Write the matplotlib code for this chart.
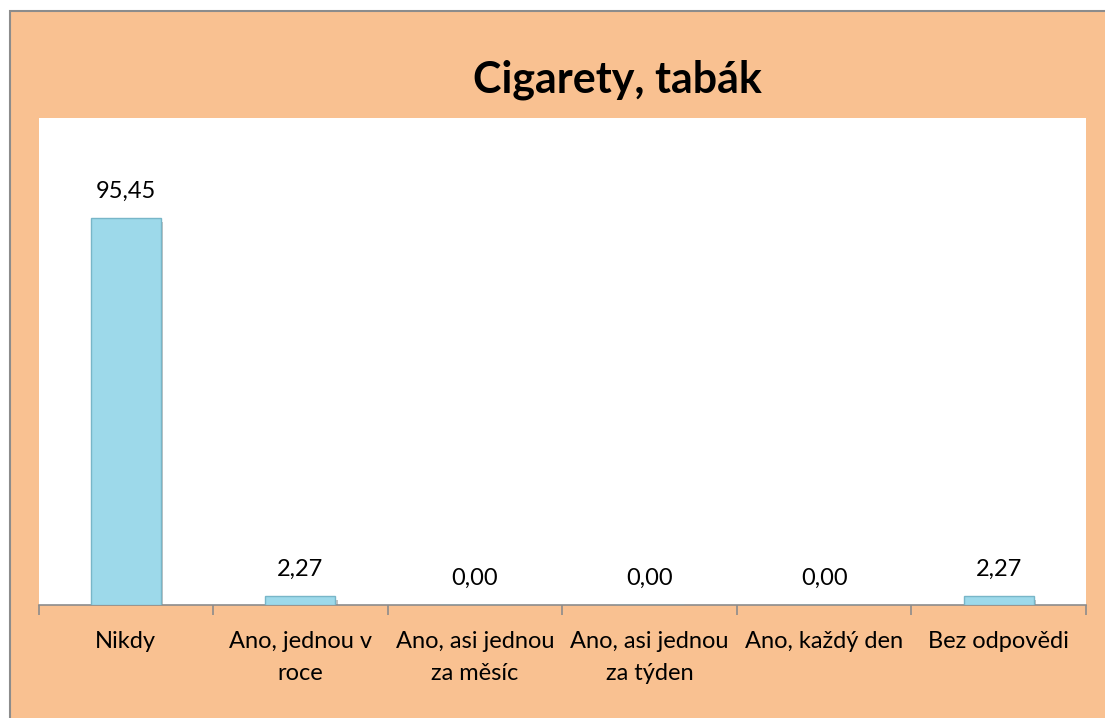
import matplotlib.pyplot as plt
import matplotlib.patheffects as pe
from matplotlib.patches import Rectangle

plt.rcParams['font.family'] = ['Lato', 'DejaVu Sans']

# data
categories = ["Nikdy", "Ano, jednou v\nroce", "Ano, asi jednou\nza měsíc",
              "Ano, asi jednou\nza týden", "Ano, každý den", "Bez odpovědi"]
values = [95.45, 2.27, 0.00, 0.00, 0.00, 2.27]
title = "Cigarety, tabák"

W, H = 1105, 718
fig = plt.figure(figsize=(W / 100, H / 100), dpi=100)
fig.patch.set_facecolor("white")

# orange chart area with grey border on top/left
fig.patches.append(Rectangle((10 / W, -0.01), 1.0, 1 - 11.5 / H + 0.01,
                             transform=fig.transFigure, facecolor="#F9C191",
                             edgecolor="#8C8C8C", linewidth=1.5, zorder=-10))

ax = fig.add_axes([38.5 / W, 113 / H, (1086 - 38.5) / W, (605 - 118) / H])
ax.set_zorder(5)
ax.set_facecolor("white")

x = range(len(categories))
bars = ax.bar(x, values, width=0.4, color="#9DD9EA", edgecolor="#78B6C8",
              linewidth=1.0, zorder=3)
for b in bars:
    b.set_path_effects([pe.SimplePatchShadow(offset=(2, -3), shadow_rgbFace="#888888", alpha=0.5),
                        pe.Normal()])

# value labels with decimal comma
for xi, v in zip(x, values):
    ax.text(xi, v + 4.0, f"{v:.2f}".replace(".", ","), ha="center", va="bottom",
            fontsize=17, color="black")

ax.set_xlim(-0.5, len(categories) - 0.5)
ax.set_ylim(0, 120)
ax.set_yticks([])
for s in ["top", "right", "left"]:
    ax.spines[s].set_visible(False)
ax.spines["bottom"].set_color("#8C8C8C")
ax.spines["bottom"].set_linewidth(1.2)

# tick marks at category boundaries, labels centred on categories
ax.set_xticks([i - 0.5 for i in range(len(categories) + 1)], minor=False)
ax.set_xticklabels([])
ax.tick_params(axis="x", length=7, color="#8C8C8C", width=1.2)
ax.set_xticks(list(x), minor=True)
ax.set_xticklabels(categories, minor=True, fontsize=17, linespacing=1.6, va="top")
ax.tick_params(axis="x", which="minor", length=0, pad=19)

fig.text(617 / W, 1 - 80 / H, title, ha="center", va="center",
         fontsize=31, fontweight="bold")

fig.savefig("out.png", dpi=100)
